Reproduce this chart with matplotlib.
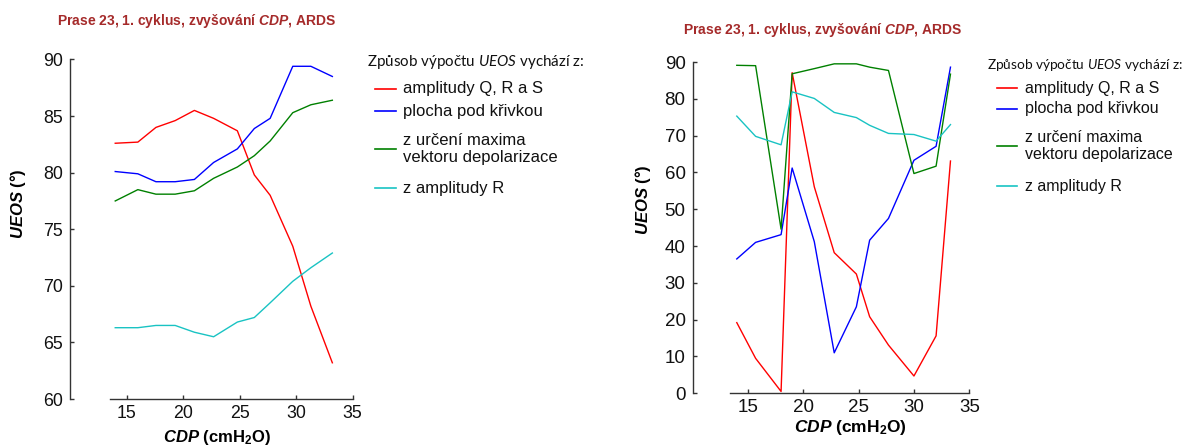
import matplotlib
matplotlib.use('Agg')
import matplotlib.pyplot as plt
from matplotlib.lines import Line2D

plt.rcParams['font.family'] = ['Liberation Sans', 'DejaVu Sans']
plt.rcParams['mathtext.fontset'] = 'custom'
plt.rcParams['mathtext.rm'] = 'Liberation Sans'
plt.rcParams['mathtext.bf'] = 'Liberation Sans:bold'
plt.rcParams['mathtext.bfit'] = 'Liberation Sans:italic:bold'
plt.rcParams['mathtext.it'] = 'Lato:italic'

# ---------------- data ----------------
title_text = r"Prase 23, 1. cyklus, zvyšování $\mathbfit{CDP}$, ARDS"
legend_title = r"Způsob výpočtu $\mathit{UEOS}$ vychází z:"
series_labels = ["amplitudy Q, R a S", "plocha pod křivkou",
                 "z určení maxima\nvektoru depolarizace", "z amplitudy R"]
series_colors = ["#FF0000", "#0000FF", "#008000", "#19C3C3"]

cdp_left = [14.0, 16.0, 17.6, 19.3, 21.0, 22.7, 24.8, 26.3, 27.7, 29.7, 31.3, 33.2]
left_qrs = [82.6, 82.7, 84.0, 84.6, 85.5, 84.8, 83.7, 79.8, 78.0, 73.5, 68.2, 63.2]
left_area = [80.1, 79.9, 79.2, 79.2, 79.4, 80.9, 82.1, 83.9, 84.8, 89.4, 89.4, 88.5]
left_vector = [77.5, 78.5, 78.1, 78.1, 78.4, 79.5, 80.5, 81.5, 82.8, 85.3, 86.0, 86.4]
left_r = [66.3, 66.3, 66.5, 66.5, 65.9, 65.5, 66.8, 67.2, 68.5, 70.4, 71.6, 72.9]

cdp_right = [14.0, 15.7, 18.0, 19.0, 21.0, 22.8, 24.8, 26.0, 27.7, 30.0, 32.0, 33.3]
right_qrs = [19.2, 9.5, 0.5, 87.1, 56.1, 38.2, 32.4, 20.8, 13.1, 4.7, 15.6, 63.1]
right_area = [36.5, 41.0, 43.1, 61.2, 41.2, 11.0, 23.5, 41.6, 47.5, 63.3, 67.1, 88.6]
right_vector = [89.1, 89.0, 44.6, 86.8, 88.2, 89.5, 89.5, 88.6, 87.7, 59.7, 61.7, 86.7]
right_r = [75.3, 69.8, 67.5, 81.9, 80.1, 76.3, 74.9, 72.8, 70.6, 70.3, 68.5, 73.0]

left_yticks = [60, 65, 70, 75, 80, 85, 90]
right_yticks = [0, 10, 20, 30, 40, 50, 60, 70, 80, 90]
xticks = [15, 20, 25, 30, 35]

W, H = 1204, 448
fig = plt.figure(figsize=(W / 100, H / 100), dpi=100)
fig.patch.set_facecolor('white')


def fx(px):
    return px / W


def fy(py):
    return 1 - py / H


def style_axes(ax, ylim, yticks, xbound_lo, tick_fs):
    ax.set_xlim(10, 35)
    ax.set_ylim(*ylim)
    ax.set_xticks(xticks)
    ax.set_yticks(yticks)
    for s in ['top', 'right']:
        ax.spines[s].set_visible(False)
    for s in ['left', 'bottom']:
        ax.spines[s].set_color('#333333')
        ax.spines[s].set_linewidth(1.0)
    ax.spines['bottom'].set_bounds(xbound_lo, 35)
    ax.tick_params(direction='in', length=3, width=1, color='#333333',
                   labelsize=tick_fs, labelcolor='#111111')
    ax.tick_params(axis='y', pad=5)
    ax.tick_params(axis='x', pad=4)
    ax.patch.set_alpha(0)


def draw_panel(ax, x, series, ylim, yticks, xbound_lo, tick_fs):
    lines = []
    for ys, c in zip(series, series_colors):
        ln, = ax.plot(x, ys, color=c, lw=1.0)
        lines.append(ln)
    style_axes(ax, ylim, yticks, xbound_lo, tick_fs)
    return lines


def draw_legend(lines, title_x, title_y, title_fs, hx0, hx1, tx, ys, fs):
    fig.text(fx(title_x), fy(title_y), legend_title, family='Lato',
             fontsize=title_fs, ha='left', va='center', color='#111111')
    for ln, lab, y in zip(lines, series_labels, ys):
        fig.add_artist(Line2D([fx(hx0), fx(hx1)], [fy(y), fy(y)],
                              color=ln.get_color(), lw=1.2,
                              transform=fig.transFigure))
        fig.text(fx(tx), fy(y), lab, fontsize=fs, ha='left', va='center',
                 color='#111111', linespacing=1.1)


# ---------------- left panel ----------------
ax1 = fig.add_axes([fx(70), (448 - 399) / H, (352.7 - 70) / W, (399 - 59.5) / H])
l1 = draw_panel(ax1, cdp_left, [left_qrs, left_area, left_vector, left_r],
                (60, 90), left_yticks, 13.5, 12.8)
fig.text(fx(197), fy(21), title_text, fontsize=10, fontweight='bold',
         color='#A52A2A', ha='center', va='center')
fig.text(fx(18), fy(204), r"$\mathbfit{UEOS}$ (°)", fontsize=12,
         fontweight='bold', rotation=90, ha='center', va='center')
fig.text(fx(217), fy(437), r"$\mathbfit{CDP}$ $\mathbf{(cmH_2O)}$",
         fontsize=12, fontweight='bold', ha='center', va='center')
draw_legend(l1, 367, 62, 10.9, 375, 396, 403, [89, 111, 149, 188], 12)

# ---------------- right panel ----------------
ax2 = fig.add_axes([fx(692.5), (448 - 393.3) / H, (969.3 - 692.5) / W,
                    (393.3 - 62) / H])
l2 = draw_panel(ax2, cdp_right, [right_qrs, right_area, right_vector, right_r],
                (0, 90), right_yticks, 13.4, 13.5)
fig.text(fx(823), fy(30), title_text, fontsize=10, fontweight='bold',
         color='#A52A2A', ha='center', va='center')
fig.text(fx(643), fy(200), r"$\mathbfit{UEOS}$ (°)", fontsize=12,
         fontweight='bold', rotation=90, ha='center', va='center')
fig.text(fx(850), fy(427), r"$\mathbfit{CDP}$ $\mathbf{(cmH_2O)}$",
         fontsize=12.5, fontweight='bold', ha='center', va='center')
draw_legend(l2, 987, 65, 9.8, 997, 1017, 1025, [88, 109, 146, 186], 11.5)

fig.savefig('out.png', dpi=100, facecolor='white')
